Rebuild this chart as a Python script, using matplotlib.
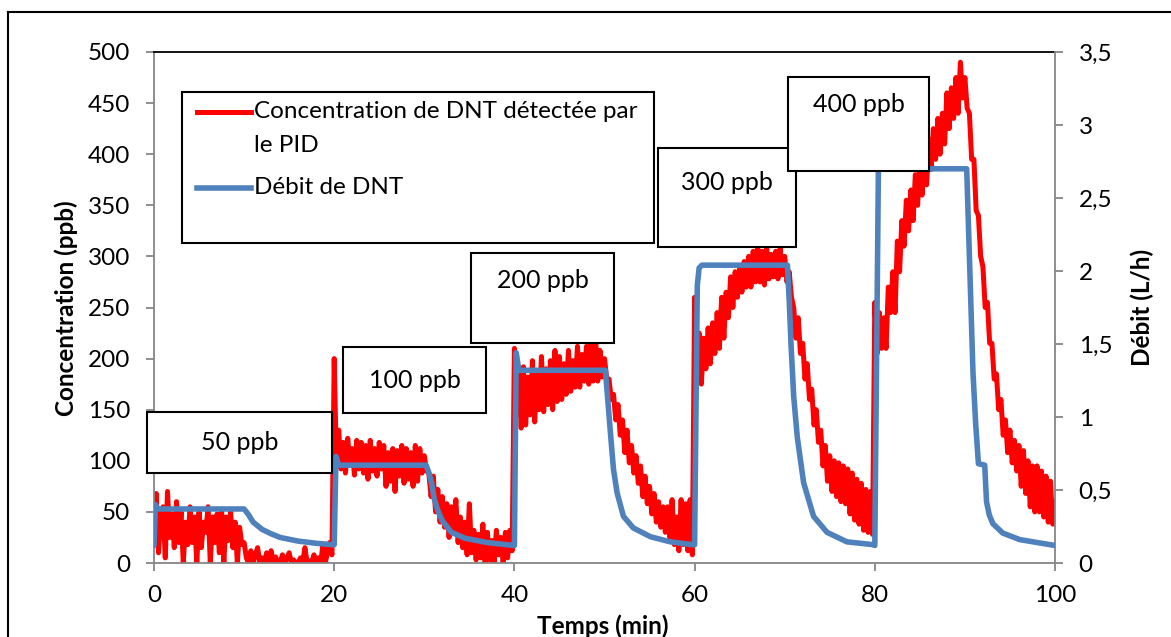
import matplotlib
matplotlib.use("Agg")
import matplotlib.pyplot as plt
from matplotlib.patches import Rectangle
from matplotlib.lines import Line2D
from matplotlib.ticker import FixedLocator, FixedFormatter

# ---------------- data ----------------
conc_step = 0.25  # minutes between PID samples
conc_values = [
    # 0-10 min
    30, 68, 10, 45, 55, 5, 70, 25, 48, 15, 60, 20, 50, 0, 40, 18, 55, 20, 45, 0,
    50, 15, 40, 30, 55, 0, 45, 20, 48, 10, 52, 0, 45, 22, 50, 15, 40, 0, 35, 18,
    # 10-20 min
    20, 5, 0, 12, 0, 8, 15, 0, 5, 0, 10, 0, 12, 0, 6, 0, 0, 8, 0, 5,
    10, 0, 3, 0, 0, 5, 0, 15, 0, 2, 0, 8, 0, 5, 0, 18, 0, 10, 20, 8,
    # 20-30 min
    200, 95, 130, 92, 118, 88, 122, 98, 112, 86, 120, 92, 118, 88, 115, 82, 120, 90, 112, 85,
    118, 92, 115, 75, 108, 80, 112, 70, 110, 85, 115, 78, 112, 82, 108, 75, 115, 80, 112, 88,
    # 30-40 min
    105, 90, 88, 65, 85, 50, 72, 40, 65, 35, 58, 25, 55, 30, 62, 20, 45, 15, 40, 8,
    58, 10, 32, 3, 28, 5, 38, 0, 30, 3, 22, 0, 32, 8, 25, 0, 30, 5, 32, 12,
    # 40-50 min
    210, 145, 188, 132, 192, 135, 182, 145, 198, 138, 188, 150, 202, 148, 190, 155, 198, 150, 208, 158,
    202, 160, 195, 165, 208, 168, 198, 172, 212, 172, 204, 178, 212, 175, 216, 178, 222, 178, 208, 182,
    # 50-60 min
    200, 180, 180, 160, 165, 140, 155, 125, 140, 108, 130, 98, 115, 88, 105, 78, 95, 65, 85, 58,
    75, 48, 68, 40, 60, 35, 55, 30, 55, 25, 62, 18, 45, 12, 62, 18, 58, 12, 62, 8,
    # 60-70 min
    260, 185, 225, 175, 220, 190, 230, 195, 235, 205, 245, 210, 260, 220, 265, 240, 280, 250, 285, 260,
    290, 265, 295, 270, 300, 270, 305, 275, 312, 275, 305, 272, 308, 278, 302, 280, 305, 278, 308, 282,
    # 70-80 min
    300, 275, 285, 260, 250, 220, 240, 205, 215, 180, 195, 160, 170, 135, 150, 118, 130, 95, 115, 80,
    105, 70, 100, 65, 98, 60, 95, 58, 92, 48, 88, 42, 82, 38, 78, 32, 72, 30, 70, 28,
    # 80-90 min
    255, 205, 245, 210, 240, 210, 270, 245, 285, 245, 315, 285, 335, 310, 355, 325, 365, 335, 380, 350,
    390, 360, 400, 370, 415, 385, 425, 395, 435, 400, 440, 410, 460, 425, 465, 435, 475, 440, 490, 455,
    # 90-100 min
    475, 445, 440, 395, 395, 345, 340, 300, 290, 250, 255, 215, 215, 180, 185, 150, 160, 125, 140, 108,
    130, 98, 120, 90, 115, 75, 110, 68, 100, 55, 95, 50, 95, 50, 90, 45, 85, 40, 80, 38,
    60,
]
conc_time = [i * conc_step for i in range(len(conc_values))]

debit_time = [
    0.0, 0.15, 0.4, 10.0, 10.5, 11.0, 12.0, 13.0, 14.0, 16.0, 18.0, 19.9,
    20.0, 20.2, 20.5, 30.2, 30.5, 30.8, 31.1, 31.5, 32.0, 33.0, 34.5, 37.0, 39.9,
    40.0, 40.2, 40.5, 50.1, 50.4, 50.7, 51.0, 51.4, 52.1, 53.2, 55.1, 57.3, 59.8,
    60.0, 60.3, 60.5, 60.8, 70.3, 70.5, 70.7, 71.0, 71.4, 72.1, 73.2, 74.7, 76.9, 79.9,
    80.0, 80.4, 90.2, 90.4, 90.6, 90.9, 91.2, 91.5, 92.2, 92.4, 92.7, 93.1, 94.2, 96.1, 100.0,
]
debit_values = [
    0.12, 0.40, 0.37, 0.37, 0.33, 0.28, 0.23, 0.20, 0.175, 0.15, 0.135, 0.125,
    0.125, 0.73, 0.67, 0.67, 0.62, 0.55, 0.44, 0.36, 0.29, 0.21, 0.17, 0.14, 0.12,
    0.12, 1.44, 1.32, 1.32, 1.09, 0.86, 0.64, 0.48, 0.32, 0.24, 0.18, 0.145, 0.125,
    0.125, 1.90, 2.02, 2.04, 2.04, 1.80, 1.50, 1.14, 0.86, 0.55, 0.32, 0.21, 0.145, 0.125,
    0.12, 2.70, 2.70, 2.30, 1.90, 1.30, 0.95, 0.68, 0.67, 0.42, 0.33, 0.27, 0.205, 0.16, 0.12,
]

x_ticks = [0, 20, 40, 60, 80, 100]
conc_ticks = [0, 50, 100, 150, 200, 250, 300, 350, 400, 450, 500]
debit_ticks = [0, 0.5, 1, 1.5, 2, 2.5, 3, 3.5]
debit_tick_labels = ["0", "0,5", "1", "1,5", "2", "2,5", "3", "3,5"]

x_label = "Temps (min)"
conc_label = "Concentration (ppb)"
debit_label = "Débit (L/h)"
legend_lines = ["Concentration de DNT détectée par", "le PID", "Débit de DNT"]
step_labels = ["50 ppb", "100 ppb", "200 ppb", "300 ppb", "400 ppb"]

# ---------------- styling ----------------
RED = "#FF0000"
BLUE = "#4F81BD"
GRAY = "#868686"
plt.rcParams["font.family"] = ["Lato", "DejaVu Sans"]

W, H = 1171, 637
def fx(px):
    return px / W
def fy(py):
    return 1 - py / H

fig = plt.figure(figsize=(W / 100, H / 100), dpi=100)
fig.patch.set_facecolor("white")

ax = fig.add_axes([fx(154), fy(563), fx(1055) - fx(154), fy(52) - fy(563)])
ax2 = ax.twinx()

ax.plot(conc_time, conc_values, color=RED, lw=3.6, solid_joinstyle="round", zorder=2)
ax2.plot(debit_time, debit_values, color=BLUE, lw=4.0, solid_joinstyle="round",
         solid_capstyle="round", zorder=3)

ax.set_xlim(0, 100)
ax.set_ylim(0, 500)
ax2.set_ylim(0, 3.5)
ax.xaxis.set_major_locator(FixedLocator(x_ticks))
ax.yaxis.set_major_locator(FixedLocator(conc_ticks))
ax2.yaxis.set_major_locator(FixedLocator(debit_ticks))
ax2.yaxis.set_major_formatter(FixedFormatter(debit_tick_labels))

for a in (ax, ax2):
    a.tick_params(axis="both", direction="out", length=6, width=1.3, color=GRAY,
                  labelsize=17.5, labelcolor="black", pad=11)
    for s in a.spines.values():
        s.set_linewidth(1.3)
        s.set_color(GRAY)
ax.tick_params(axis="x", pad=10)
ax.spines["top"].set_color("black")
ax.spines["right"].set_visible(False)
ax2.spines["left"].set_visible(False)
ax2.spines["bottom"].set_visible(False)
ax2.spines["top"].set_visible(False)

# axis titles
fig.text(fx(603), fy(626), x_label, ha="center", va="center", fontsize=17.5, fontweight="bold")
fig.text(fx(66), fy(308), conc_label, ha="center", va="center", rotation=90,
         fontsize=17.5, fontweight="bold")
fig.text(fx(1142), fy(307), debit_label, ha="center", va="center", rotation=90,
         fontsize=17.5, fontweight="bold")

# outer chart frame
fig.add_artist(Line2D([fx(8), 1.0], [fy(12), fy(12)], color="black", lw=1.5,
                      transform=fig.transFigure))
fig.add_artist(Line2D([fx(8), fx(8)], [fy(12), 0.0], color="black", lw=1.5,
                      transform=fig.transFigure))

# legend box
def box(left, top, right, bottom, z=5):
    fig.add_artist(Rectangle((fx(left), fy(bottom)), fx(right) - fx(left), fy(top) - fy(bottom),
                             transform=fig.transFigure, facecolor="white", edgecolor="black",
                             lw=1.5, zorder=z))

box(182, 92, 654, 243)
fig.add_artist(Line2D([fx(197), fx(251)], [fy(112), fy(112)], color=RED, lw=3.6,
                      transform=fig.transFigure, zorder=6))
fig.add_artist(Line2D([fx(197), fx(251)], [fy(188), fy(188)], color=BLUE, lw=4.0,
                      transform=fig.transFigure, zorder=6))
fig.text(fx(254), fy(112), legend_lines[0], ha="left", va="center", fontsize=17.5, zorder=7)
fig.text(fx(254), fy(146), legend_lines[1], ha="left", va="center", fontsize=17.5, zorder=7)
fig.text(fx(254), fy(188), legend_lines[2], ha="left", va="center", fontsize=17.5, zorder=7)

# concentration step boxes
step_boxes = [
    (147, 412, 332, 473, 442),
    (343, 347, 486, 413, 380),
    (471, 253, 614, 343, 281),
    (658, 148, 796, 247, 183),
    (788, 77, 929, 171, 105),
]
for i, (lbl, (l, t, r, b, ty)) in enumerate(zip(step_labels, step_boxes)):
    box(l, t, r, b, z=5 + 2 * i)
    fig.text(fx((l + r) / 2), fy(ty), lbl, ha="center", va="center", fontsize=18,
             zorder=6 + 2 * i)

fig.savefig("out.png", dpi=100, facecolor="white")
